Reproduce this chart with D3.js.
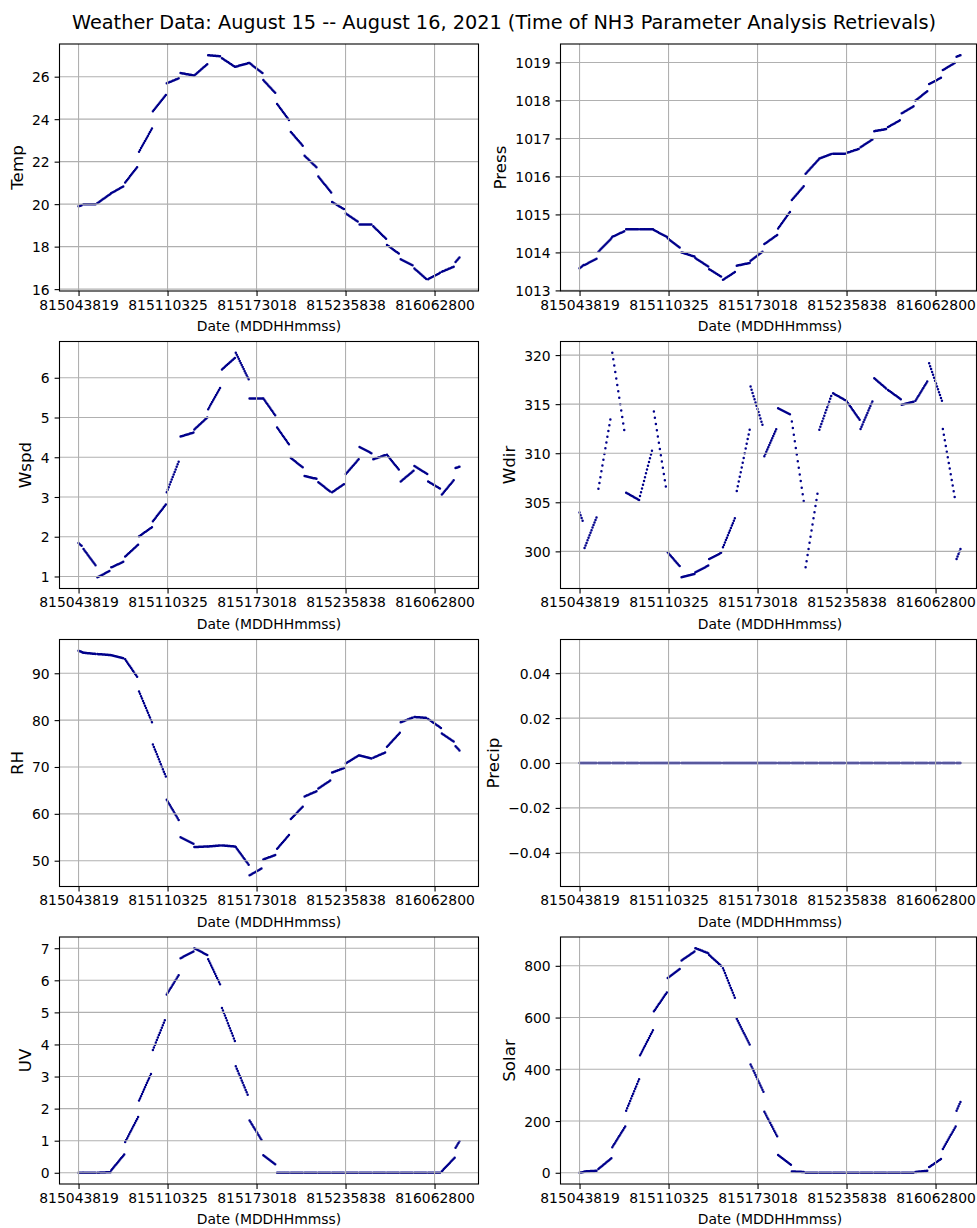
<!DOCTYPE html>
<html>
<head>
<meta charset="utf-8">
<script src="https://cdn.jsdelivr.net/npm/d3@7"></script>
<style>
  body { margin: 0; background: #fff; }
  text { font-family: "DejaVu Sans", sans-serif; }
</style>
</head>
<body>
<svg id="fig" width="977" height="1228"></svg>
<script>
// Retrieval time stamps (MDDHHmmss) used as x tick labels
const tickLabels = ["815043819", "815110325", "815173018", "815235838", "816062800"];

// Each hourly weather record covers a run of retrievals: first and last stamp of the run
const segStart = [
  "815043819", "815050000", "815060000", "815070000", "815080000", "815090000",
  "815100000", "815110000", "815120000", "815130000", "815140000", "815150000",
  "815160000", "815170000", "815180000", "815190000", "815200000", "815210000",
  "815220000", "815230000", "816000000", "816010000", "816020000", "816030000",
  "816040000", "816050000", "816060000", "816070000", "816080000"
];
const segEnd = [
  "815045600", "815055600", "815065600", "815075600", "815085600", "815095600",
  "815105600", "815115600", "815125600", "815135600", "815145600", "815155600",
  "815165600", "815175600", "815185600", "815195600", "815205600", "815215600",
  "815225600", "815235600", "816005600", "816015600", "816025600", "816035600",
  "816045600", "816055600", "816065600", "816075600", "816081700"
];

// [value at first retrieval, value at last retrieval] of each run
const temp = [
  [19.90, 19.96], [20.00, 20.00], [20.05, 20.48], [20.52, 20.86], [21.02, 21.80], [22.47, 23.56],
  [24.37, 25.14], [25.69, 25.94], [26.17, 26.06], [26.06, 26.59], [27.01, 26.96], [26.87, 26.47],
  [26.47, 26.64], [26.64, 26.17], [25.84, 25.19], [24.72, 23.90], [23.40, 22.70], [22.28, 21.69],
  [21.30, 20.55], [20.10, 19.74], [19.56, 19.15], [19.04, 19.04], [18.96, 18.37], [18.08, 17.64],
  [17.41, 17.10], [16.97, 16.44], [16.47, 16.79], [16.82, 17.07], [17.28, 17.49]
];
const press = [
  [1013.58, 1013.67], [1013.67, 1013.85], [1014.02, 1014.37], [1014.41, 1014.57], [1014.61, 1014.61], [1014.61, 1014.61],
  [1014.59, 1014.41], [1014.37, 1014.11], [1014.00, 1013.89], [1013.85, 1013.63], [1013.56, 1013.35], [1013.28, 1013.50],
  [1013.65, 1013.72], [1013.78, 1014.04], [1014.22, 1014.46], [1014.63, 1015.10], [1015.38, 1015.77], [1016.07, 1016.44],
  [1016.47, 1016.60], [1016.60, 1016.60], [1016.62, 1016.73], [1016.77, 1016.99], [1017.19, 1017.25], [1017.30, 1017.49],
  [1017.66, 1017.86], [1018.00, 1018.26], [1018.43, 1018.61], [1018.80, 1019.00], [1019.15, 1019.19]
];
const wspd = [
  [1.84, 1.75], [1.69, 1.25], [0.98, 1.15], [1.23, 1.38], [1.50, 1.80], [2.01, 2.24],
  [2.39, 2.81], [3.12, 3.95], [4.52, 4.62], [4.70, 5.00], [5.21, 5.79], [6.21, 6.50],
  [6.63, 5.96], [5.48, 5.48], [5.48, 5.02], [4.75, 4.29], [3.98, 3.73], [3.53, 3.45],
  [3.37, 3.12], [3.12, 3.34], [3.58, 3.95], [4.26, 4.09], [3.95, 4.06], [4.06, 3.66],
  [3.39, 3.66], [3.78, 3.58], [3.39, 3.20], [3.06, 3.45], [3.73, 3.76]
];
const wdir = [
  [303.95, 302.84], [300.34, 303.72], [306.39, 314.02], [320.24, 311.72], [305.98, 305.24], [305.64, 310.64],
  [314.26, 305.98], [299.90, 298.38], [297.36, 297.70], [297.87, 298.55], [299.22, 299.90], [300.41, 303.61],
  [306.15, 312.40], [316.79, 312.57], [309.70, 312.67], [314.59, 313.92], [313.24, 304.46], [298.38, 306.49],
  [312.40, 316.11], [316.11, 315.37], [315.27, 313.41], [312.47, 315.51], [317.64, 316.52], [316.45, 315.51],
  [314.93, 315.27], [315.34, 317.47], [319.16, 315.34], [312.47, 304.97], [299.22, 300.24]
];
const rh = [
  [94.81, 94.45], [94.38, 94.10], [94.10, 93.89], [93.82, 93.18], [92.97, 88.94], [86.11, 79.54],
  [74.81, 67.95], [63.00, 58.34], [55.02, 53.60], [52.90, 53.04], [53.04, 53.25], [53.25, 53.04],
  [52.90, 49.15], [46.89, 48.45], [50.28, 51.27], [52.54, 55.72], [58.90, 61.73], [63.71, 64.91],
  [65.41, 67.24], [68.80, 69.86], [70.78, 72.47], [72.47, 71.77], [71.98, 73.18], [74.31, 77.28],
  [79.54, 80.60], [80.67, 80.46], [80.25, 78.34], [77.14, 75.30], [74.45, 73.53]
];
const precip = [
  [0, 0], [0, 0], [0, 0], [0, 0], [0, 0], [0, 0], [0, 0], [0, 0], [0, 0], [0, 0],
  [0, 0], [0, 0], [0, 0], [0, 0], [0, 0], [0, 0], [0, 0], [0, 0], [0, 0], [0, 0],
  [0, 0], [0, 0], [0, 0], [0, 0], [0, 0], [0, 0], [0, 0], [0, 0], [0, 0]
];
const uv = [
  [0, 0], [0, 0], [0, 0.02], [0.08, 0.57], [0.96, 1.74], [2.25, 3.15],
  [3.83, 4.83], [5.56, 6.21], [6.69, 6.90], [7.00, 6.79], [6.66, 5.81], [5.14, 4.11],
  [3.32, 2.36], [1.63, 0.98], [0.55, 0.24], [0, 0], [0, 0], [0, 0],
  [0, 0], [0, 0], [0, 0], [0, 0], [0, 0], [0, 0],
  [0, 0], [0, 0], [0, 0], [0.05, 0.47], [0.78, 0.98]
];
const solar = [
  [0, 3], [5, 8], [15, 56], [99, 179], [240, 362], [454, 551],
  [624, 697], [753, 791], [821, 855], [868, 849], [842, 797], [791, 667],
  [595, 496], [419, 313], [236, 141], [69, 31], [5, 3], [0, 0],
  [0, 0], [0, 0], [0, 0], [0, 0], [0, 0], [0, 0],
  [0, 0], [3, 8], [22, 56], [92, 179], [240, 274]
];

// y tick values per panel
const tempTicks = [16, 18, 20, 22, 24, 26];
const pressTicks = [1013, 1014, 1015, 1016, 1017, 1018, 1019];
const wspdTicks = [1, 2, 3, 4, 5, 6];
const wdirTicks = [300, 305, 310, 315, 320];
const rhTicks = [50, 60, 70, 80, 90];
const precipTicks = [-0.04, -0.02, 0, 0.02, 0.04];
const uvTicks = [0, 1, 2, 3, 4, 5, 6, 7];
const solarTicks = [0, 200, 400, 600, 800];

const panels = [
  { name: "Temp", values: temp, ticks: tempTicks, fmt: d3.format("d") },
  { name: "Press", values: press, ticks: pressTicks, fmt: d3.format("d") },
  { name: "Wspd", values: wspd, ticks: wspdTicks, fmt: d3.format("d") },
  { name: "Wdir", values: wdir, ticks: wdirTicks, fmt: d3.format("d") },
  { name: "RH", values: rh, ticks: rhTicks, fmt: d3.format("d") },
  { name: "Precip", values: precip, ticks: precipTicks, fmt: d3.format(".2f") },
  { name: "UV", values: uv, ticks: uvTicks, fmt: d3.format("d") },
  { name: "Solar", values: solar, ticks: solarTicks, fmt: d3.format("d") }
];

// hours since 2021-08-15 00:00 from an MDDHHmmss stamp
function stampHours(s) {
  const day = +s.slice(1, 3), h = +s.slice(3, 5), m = +s.slice(5, 7), sec = +s.slice(7, 9);
  return (day - 15) * 24 + h + m / 60 + sec / 3600;
}

// retrievals are plotted by sequence, so tick stamps sit at equal steps
const tickHours = tickLabels.map(stampHours);
const seqScale = d3.scaleLinear().domain(tickHours).range(tickHours.map((d, i) => i));
const segs = segStart.map((s, i) => ({ t0: stampHours(s), t1: stampHours(segEnd[i]) }));
const seqMin = seqScale(segs[0].t0), seqMax = seqScale(segs[segs.length - 1].t1);
const seqPad = (seqMax - seqMin) * 0.05;

const svg = d3.select("#fig");
const colX = [59.5, 560.5];
const rowY = [44, 341.5, 639.5, 937];
const plotW = 419, plotH = 247;
const frameW = [419, 416];
const dotColor = "#00008b";
const gridColor = "#b0b0b0";
const lw = 1.1;

svg.append("text")
  .attr("x", 504).attr("y", 29)
  .attr("text-anchor", "middle")
  .attr("font-size", 19.3)
  .text("Weather Data: August 15 -- August 16, 2021 (Time of NH3 Parameter Analysis Retrievals)");

panels.forEach((p, idx) => {
  const col = idx % 2, row = Math.floor(idx / 2);
  const left = colX[col], top = rowY[row], fw = frameW[col];
  const g = svg.append("g").attr("transform", `translate(${left},${top})`);

  const x = d3.scaleLinear().domain([seqMin - seqPad, seqMax + seqPad]).range([0, plotW]);
  let lo = d3.min(p.values, d => Math.min(d[0], d[1]));
  let hi = d3.max(p.values, d => Math.max(d[0], d[1]));
  if (lo === hi) { lo -= 0.05; hi += 0.05; }
  const pad = (hi - lo) * 0.05;
  const y = d3.scaleLinear().domain([lo - pad, hi + pad]).range([plotH, 0]);
  const xs = t => x(seqScale(t));

  // retrieval dots along each hourly run
  const dots = g.append("g");
  p.values.forEach((v, i) => {
    const s = segs[i];
    const x0 = xs(s.t0), x1 = xs(s.t1), y0 = y(v[0]), y1 = y(v[1]);
    const n = Math.max(2, Math.round((s.t1 - s.t0) * 14) + 1);
    const len = Math.hypot(x1 - x0, y1 - y0);
    dots.append("path")
      .attr("d", `M${x0},${y0}L${x1},${y1}`)
      .attr("fill", "none")
      .attr("stroke", dotColor)
      .attr("stroke-width", 2.5)
      .attr("stroke-linecap", "round")
      .attr("stroke-dasharray", `0 ${len / (n - 1)}`);
  });

  // grid (drawn above the markers)
  const grid = g.append("g").attr("stroke", gridColor).attr("stroke-width", lw);
  tickHours.forEach(t => {
    const xx = xs(t);
    grid.append("line").attr("x1", xx).attr("x2", xx).attr("y1", 0).attr("y2", plotH);
  });
  p.ticks.forEach(v => {
    grid.append("line").attr("x1", 0).attr("x2", fw).attr("y1", y(v)).attr("y2", y(v));
  });

  // x axis
  const xAxis = d3.axisBottom(x)
    .tickValues(tickHours.map(seqScale))
    .tickFormat((d, i) => tickLabels[i])
    .tickSize(4.9).tickPadding(4.2);
  const xg = g.append("g").attr("transform", `translate(0,${plotH})`).call(xAxis);
  xg.select(".domain").remove();
  xg.selectAll(".tick line").attr("stroke", "#000").attr("stroke-width", lw);
  xg.selectAll(".tick text").attr("font-size", 13.9).attr("fill", "#000")
    .attr("font-family", "DejaVu Sans");

  // y axis
  const yAxis = d3.axisLeft(y).tickValues(p.ticks).tickFormat(p.fmt).tickSize(4.9).tickPadding(4.9);
  const yg = g.append("g").call(yAxis);
  yg.select(".domain").remove();
  yg.selectAll(".tick line").attr("stroke", "#000").attr("stroke-width", lw);
  yg.selectAll(".tick text").attr("font-size", 13.9).attr("fill", "#000")
    .attr("font-family", "DejaVu Sans").attr("dy", "0.36em");

  // frame
  g.append("rect").attr("x", 0).attr("y", 0).attr("width", fw).attr("height", plotH)
    .attr("fill", "none").attr("stroke", "#000").attr("stroke-width", lw);

  // labels
  g.append("text")
    .attr("x", plotW / 2).attr("y", plotH + 40)
    .attr("text-anchor", "middle").attr("font-size", 13.9)
    .text("Date (MDDHHmmss)");

  const tb = yg.node().getBBox();
  g.append("text")
    .attr("transform", `translate(${tb.x - 9.5},${plotH / 2}) rotate(-90)`)
    .attr("text-anchor", "middle").attr("font-size", 16.7)
    .text(p.name);
});
</script>
</body>
</html>
